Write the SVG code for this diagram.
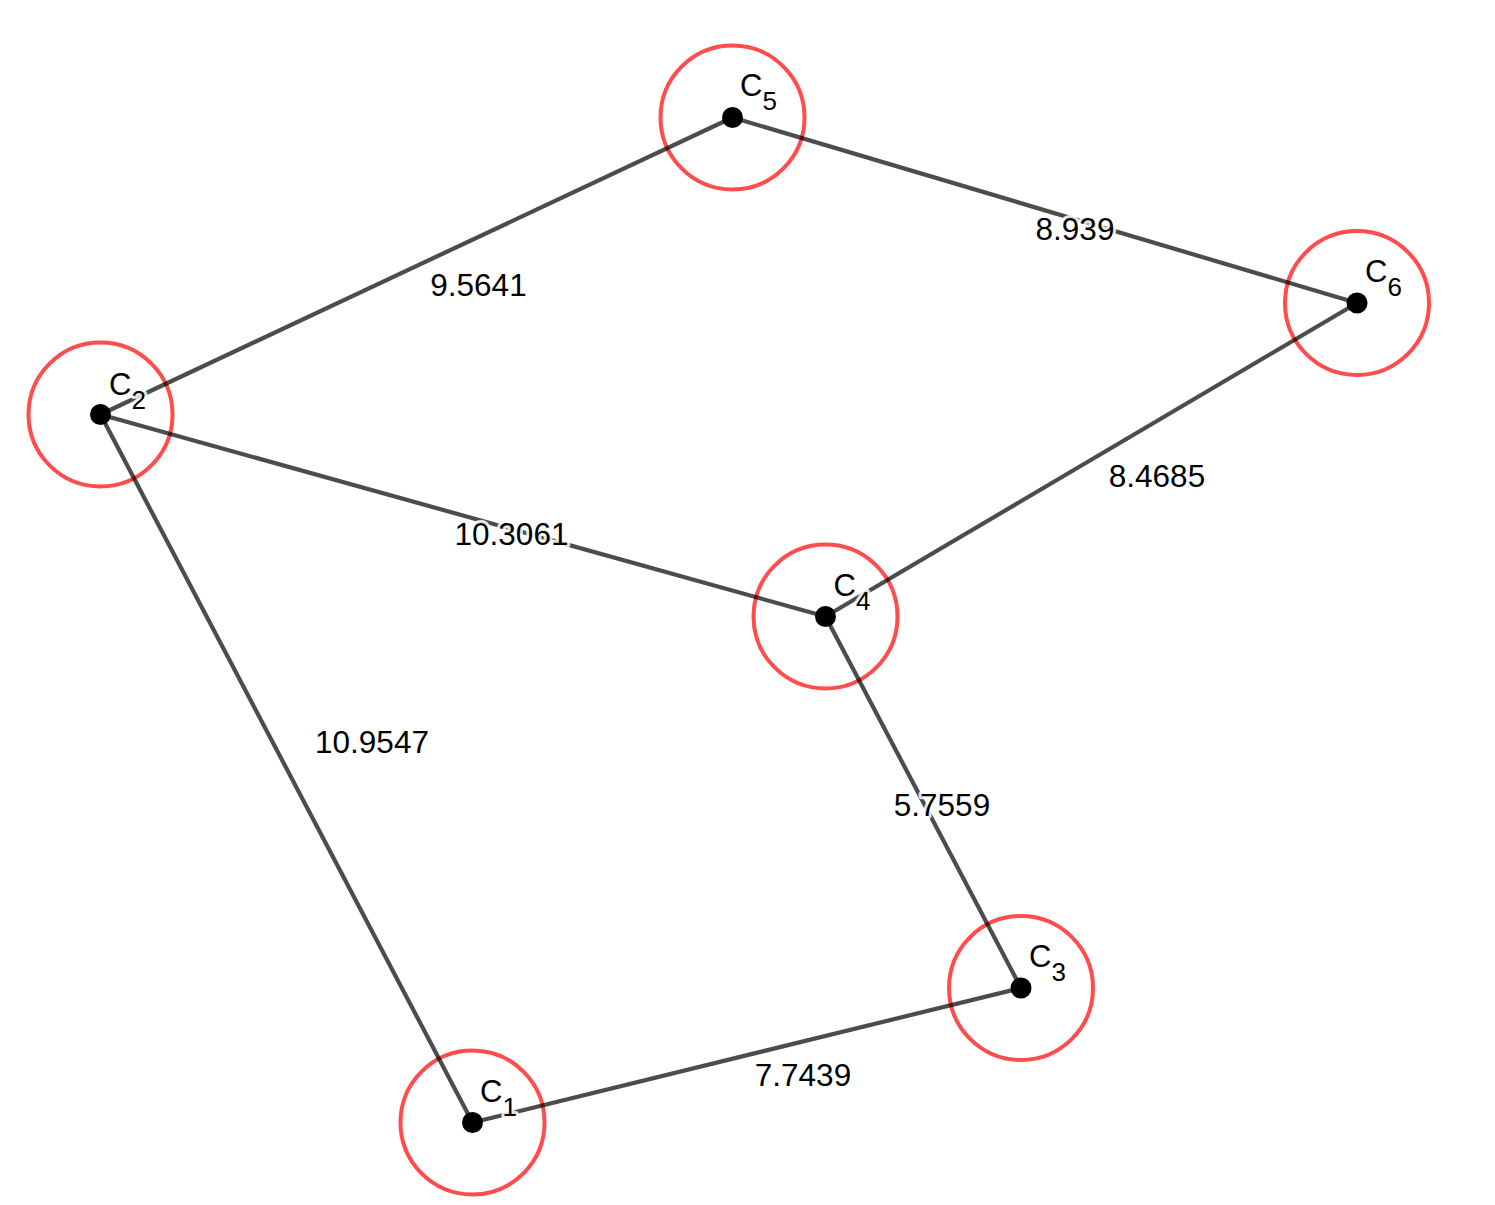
<svg xmlns="http://www.w3.org/2000/svg" width="1495" height="1205" viewBox="0 0 1495 1205">
<style>
.ring{fill:none;stroke:#ff0000;stroke-opacity:0.7;stroke-width:4}
.edge{stroke:#000;stroke-opacity:0.7;stroke-width:4.2;fill:none}
.dot{fill:#000}
text{font-family:"Liberation Sans",Arial,sans-serif;fill:#000;paint-order:stroke;stroke:#fff;stroke-opacity:0.85;stroke-width:6;stroke-linejoin:round}
.el{font-size:31.5px;text-anchor:middle}
.nl{font-size:31px}
.sub{font-size:26px}
</style>
<rect width="1495" height="1205" fill="#fff"/>
<g id="rings">
<circle class="ring" cx="472.5" cy="1122.5" r="72"/>
<circle class="ring" cx="100.5" cy="414.5" r="72"/>
<circle class="ring" cx="1021" cy="988" r="72"/>
<circle class="ring" cx="825.5" cy="616.5" r="72"/>
<circle class="ring" cx="732.5" cy="117.5" r="72"/>
<circle class="ring" cx="1357" cy="303" r="72"/>
</g>
<g id="connectors">
<line class="edge" x1="100.5" y1="414.5" x2="732.5" y2="117.5"/>
<line class="edge" x1="732.5" y1="117.5" x2="1357" y2="303"/>
<line class="edge" x1="1357" y1="303" x2="825.5" y2="616.5"/>
<line class="edge" x1="100.5" y1="414.5" x2="825.5" y2="616.5"/>
<line class="edge" x1="100.5" y1="414.5" x2="472.5" y2="1122.5"/>
<line class="edge" x1="825.5" y1="616.5" x2="1021" y2="988"/>
<line class="edge" x1="1021" y1="988" x2="472.5" y2="1122.5"/>
<text class="el" x="478.5" y="295.5">9.5641</text>
<text class="el" x="1075" y="240">8.939</text>
<text class="el" x="1157" y="487">8.4685</text>
<text class="el" x="511.5" y="545">10.3061</text>
<text class="el" x="372" y="753">10.9547</text>
<text class="el" x="942" y="816">5.7559</text>
<text class="el" x="803" y="1086">7.7439</text>
</g>
<g id="C1"><circle class="dot" cx="472.5" cy="1122.5" r="10.5"/><text class="nl" x="480" y="1101.5">C<tspan class="sub" dy="14">1</tspan></text></g>
<g id="C2"><circle class="dot" cx="100.5" cy="414.5" r="10.5"/><text class="nl" x="109" y="395">C<tspan class="sub" dy="14">2</tspan></text></g>
<g id="C3"><circle class="dot" cx="1021" cy="988" r="10.5"/><text class="nl" x="1029" y="967">C<tspan class="sub" dy="14">3</tspan></text></g>
<g id="C4"><circle class="dot" cx="825.5" cy="616.5" r="10.5"/><text class="nl" x="833.5" y="596">C<tspan class="sub" dy="14">4</tspan></text></g>
<g id="C5"><circle class="dot" cx="732.5" cy="117.5" r="10.5"/><text class="nl" x="740" y="95.5">C<tspan class="sub" dy="14">5</tspan></text></g>
<g id="C6"><circle class="dot" cx="1357" cy="303" r="10.5"/><text class="nl" x="1365" y="282">C<tspan class="sub" dy="14">6</tspan></text></g>
</svg>
